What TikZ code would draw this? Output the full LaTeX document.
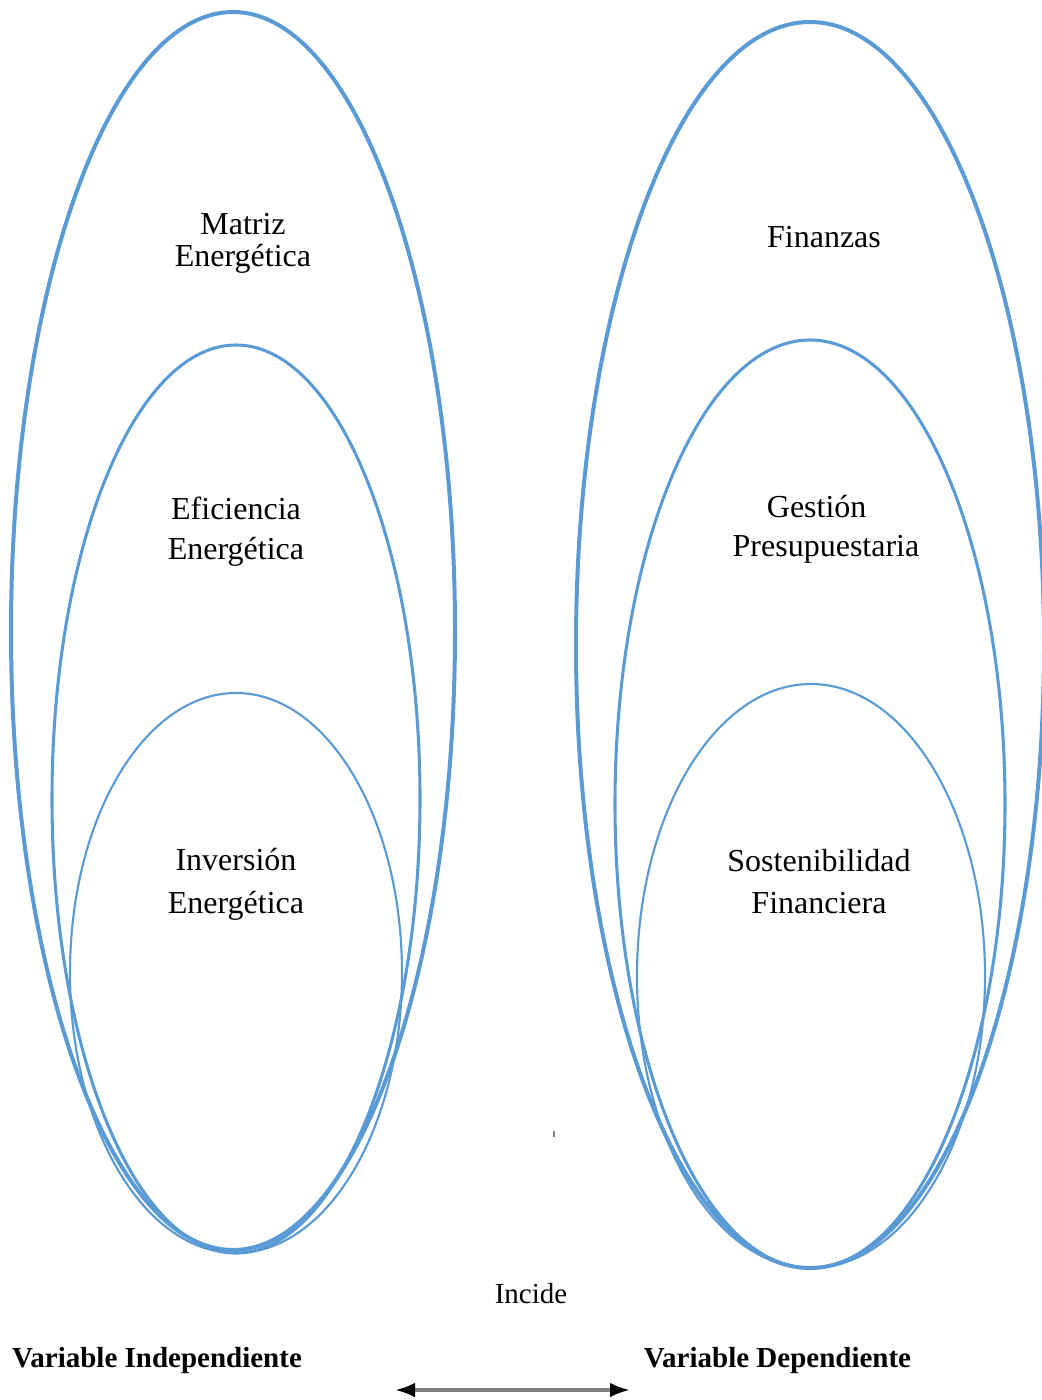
\documentclass[tikz,border=0pt]{standalone}
\usepackage{fontspec}
\setmainfont{Liberation Serif}
\usetikzlibrary{shapes.geometric,arrows.meta}
\definecolor{ringblue}{HTML}{5B9BD5}
\definecolor{arrowgray}{HTML}{808080}
\tikzset{
  ring/.style 2 args={ellipse, draw=ringblue, inner sep=0pt, outer sep=0pt,
    minimum width=#1*0.75pt, minimum height=#2*0.75pt},
  thickA/.style={line width=3pt},
  thickB/.style={line width=2.3pt},
  thickC/.style={line width=1.6pt},
  lbl/.style={align=center, inner sep=0pt, font=\fontsize{24}{31}\selectfont},
  varlbl/.style={inner sep=0pt, font=\fontsize{21.75}{26}\selectfont\bfseries},
}
\begin{document}
\begin{tikzpicture}[x=0.75pt, y=-0.75pt]
\useasboundingbox (0,0) rectangle (1042,1400);
% left family of nested ovals
\node[ring={444}{1238}, thickA] (mo) at (233,631) {};
\node[ring={368}{908}, thickB] (mm) at (236,799) {};
\node[ring={332}{560}, thickC] (mi) at (236,973) {};
% right family of nested ovals
\node[ring={468}{1246}, thickA] (fo) at (810,645) {};
\node[ring={390}{928}, thickB] (fm) at (810,804) {};
\node[ring={348}{584}, thickC] (fi) at (811,976) {};
% labels inside the ovals
\node[lbl, font=\fontsize{24}{24}\selectfont] (tmat) at (243,243) {Matriz\\Energética};
\node[lbl, font=\fontsize{24}{30}\selectfont] (tefi) at (236,532) {Eficiencia\\Energética};
\node[lbl, font=\fontsize{24}{32.5}\selectfont] (tinv) at (236,884) {Inversión\\Energética};
\node[lbl] (tfin) at (824,237) {Finanzas};
\node[lbl, font=\fontsize{24}{29.5}\selectfont] (tges) at (826,529)
  {Gestión\hspace*{14pt}\\Presupuestaria};
\node[lbl, font=\fontsize{24}{31.5}\selectfont] (tsos) at (819,882) {Sostenibilidad\\Financiera};
% small mark between the families
\node[fill=arrowgray, inner sep=0pt, minimum width=1.5pt, minimum height=5pt] (mark) at (553.5,1134) {};
% bottom captions and relation arrow
\node[inner sep=0pt, font=\fontsize{21.75}{26}\selectfont] (inc) at (531,1294) {Incide};
\node[varlbl] (vind) at (157,1361) {Variable Independiente};
\node[varlbl] (vdep) at (777.5,1361) {Variable Dependiente};
\coordinate (al) at (395,1390);
\coordinate (ar) at (630,1390);
\draw[arrowgray, line width=2.7pt,
  {Latex[black,length=15pt,width=11pt]}-{Latex[black,length=15pt,width=11pt]}] (al) -- (ar);
\end{tikzpicture}
\end{document}
